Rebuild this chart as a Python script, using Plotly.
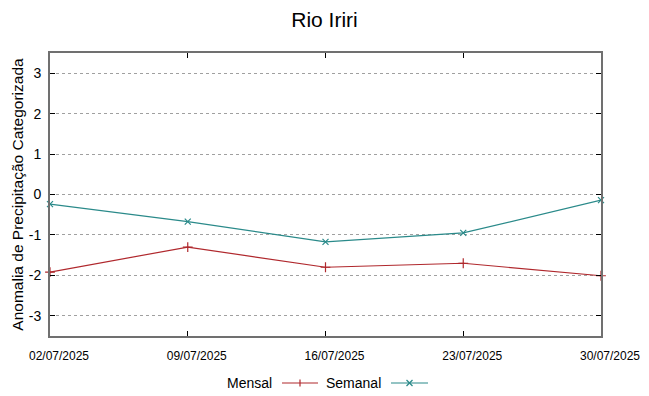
import plotly.graph_objects as go

dates = ["2025-07-02", "2025-07-09", "2025-07-16", "2025-07-23", "2025-07-30"]
tick_labels = ["02/07/2025", "09/07/2025", "16/07/2025", "23/07/2025", "30/07/2025"]
mensal = [-1.92, -1.30, -1.80, -1.70, -2.01]
semanal = [-0.24, -0.67, -1.17, -0.95, -0.14]
y_ticks = [-3, -2, -1, 0, 1, 2, 3]
y_tick_labels = ["-3", "-2", "-1", "0", "1", "2", "3"]

c_mensal = "#b0282d"
c_semanal = "#2a8a8a"
FONT = "Liberation Sans, Arial, sans-serif"

L, R, T, B = 50, 601, 53, 336
W, H = 649, 396

fig = go.Figure()
fig.add_trace(go.Scatter(x=dates, y=mensal, mode="lines+markers", name="Mensal",
                         line=dict(color=c_mensal, width=1.2),
                         marker=dict(symbol="cross-thin", size=7, line=dict(color=c_mensal, width=1.2)),
                         cliponaxis=False))
fig.add_trace(go.Scatter(x=dates, y=semanal, mode="lines+markers", name="Semanal",
                         line=dict(color=c_semanal, width=1.2),
                         marker=dict(symbol="x-thin", size=6, line=dict(color=c_semanal, width=1.2)),
                         cliponaxis=False))

fig.update_layout(
    width=W, height=H,
    margin=dict(l=L, r=W - R, t=T, b=H - B, autoexpand=False),
    paper_bgcolor="white", plot_bgcolor="white",
    font=dict(family=FONT, color="black"),
    showlegend=False,
    title=dict(text="Rio Iriri", x=0.5, xanchor="center", y=1 - 20 / H, yanchor="middle",
               font=dict(size=21, family=FONT)),
    xaxis=dict(type="date", range=[dates[0], dates[-1]], tickvals=dates, ticktext=tick_labels,
               tickfont=dict(size=12), showgrid=False, zeroline=False, automargin=False,
               showline=True, linecolor="#707070", linewidth=2, mirror="ticks",
               ticks="inside", ticklen=5, tickcolor="black", ticklabelstandoff=8,
               ticklabelshift=9),
    yaxis=dict(range=[-3.5, 3.5], tickvals=y_ticks, ticktext=y_tick_labels, automargin=False,
               tickfont=dict(size=14), showgrid=True, gridcolor="#a0a0a0", griddash="dot", gridwidth=1,
               zeroline=False, showline=True, linecolor="#707070", linewidth=2, mirror="ticks",
               ticks="inside", ticklen=5, tickcolor="black", ticklabelstandoff=4,
               title=dict(text="Anomalia de Precipitação Categorizada", font=dict(size=15.5), standoff=1)),
)

# manual legend (text before sample, gnuplot style)
def px(xp):
    return (xp - L) / (R - L)

def py(yp):
    return (B - yp) / (B - T)

ly = py(383)
fig.add_annotation(text="Mensal", x=px(274), y=ly, xref="paper", yref="paper",
                   xanchor="right", yanchor="middle", showarrow=False, font=dict(size=14))
fig.add_shape(type="line", xref="paper", yref="paper", x0=px(282), x1=px(318), y0=ly, y1=ly,
              line=dict(color=c_mensal, width=1.2))
fig.add_annotation(text="Semanal", x=px(383), y=ly, xref="paper", yref="paper",
                   xanchor="right", yanchor="middle", showarrow=False, font=dict(size=14))
fig.add_shape(type="line", xref="paper", yref="paper", x0=px(391), x1=px(428), y0=ly, y1=ly,
              line=dict(color=c_semanal, width=1.2))
# legend marker glyphs
cx = 300
fig.add_shape(type="line", xref="paper", yref="paper", x0=px(cx), x1=px(cx), y0=py(379.5), y1=py(386.5),
              line=dict(color=c_mensal, width=1.2))
cx2 = 409.5
fig.add_shape(type="line", xref="paper", yref="paper", x0=px(cx2 - 3), x1=px(cx2 + 3), y0=py(380), y1=py(386),
              line=dict(color=c_semanal, width=1.2))
fig.add_shape(type="line", xref="paper", yref="paper", x0=px(cx2 - 3), x1=px(cx2 + 3), y0=py(386), y1=py(380),
              line=dict(color=c_semanal, width=1.2))

fig.write_html("out.html", config={"displayModeBar": False},
               post_script="document.body.style.margin='0';document.body.style.padding='0';")
